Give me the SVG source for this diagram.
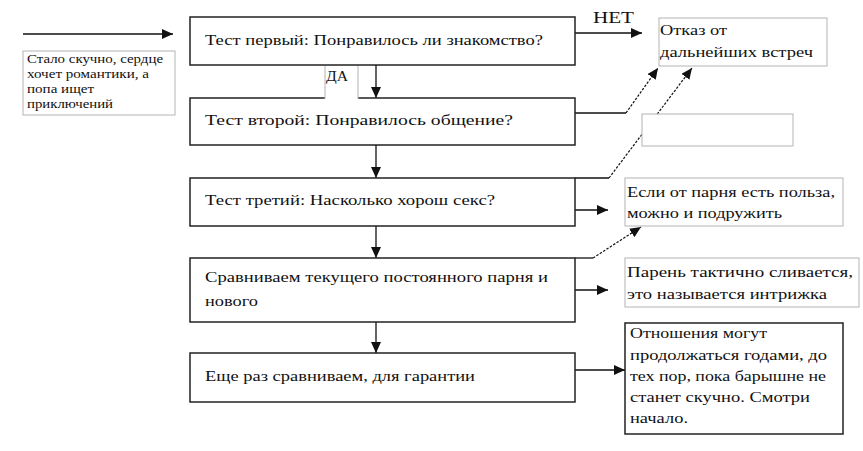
<svg xmlns="http://www.w3.org/2000/svg" width="863" height="451" viewBox="0 0 863 451">
<style>
.bx{fill:#fff;stroke:#222;stroke-width:1.5}
.gb{fill:#fff;stroke:#b4b4b4;stroke-width:1}
.t{font-size:15px;fill:#111}
.ts{font-size:12px;fill:#111}
.ln{fill:none;stroke:#111;stroke-width:1.3}
.ds{fill:none;stroke:#111;stroke-width:1.2;stroke-dasharray:2.5,1.5}
</style>
<defs>
<marker id="ah" markerUnits="userSpaceOnUse" markerWidth="12" markerHeight="10" refX="11" refY="5" orient="auto">
<path d="M0,0 L11,5 L0,10 Z" fill="#111"/>
</marker>
</defs>
<rect width="863" height="451" fill="#fff"/>
<g id="connectors">
<line class="ln" x1="23" y1="34" x2="173" y2="34" marker-end="url(#ah)"/>
<line class="ln" x1="575" y1="33" x2="642" y2="33" marker-end="url(#ah)"/>
<line class="ln" x1="376" y1="65" x2="376" y2="98" marker-end="url(#ah)"/>
<line class="ln" x1="376" y1="145" x2="376" y2="178" marker-end="url(#ah)"/>
<line class="ln" x1="376" y1="226" x2="376" y2="258" marker-end="url(#ah)"/>
<line class="ln" x1="376" y1="322" x2="376" y2="353" marker-end="url(#ah)"/>
<polyline class="ln" points="575,113 626,113"/>
<line class="ds" x1="626" y1="113" x2="658" y2="68" marker-end="url(#ah)"/>
<polyline class="ln" points="575,178 609,178"/>
<line class="ds" x1="609" y1="178" x2="692" y2="68" marker-end="url(#ah)"/>
<line class="ln" x1="575" y1="210" x2="608" y2="210" marker-end="url(#ah)"/>
<polyline class="ln" points="575,258 593,258"/>
<line class="ds" x1="593" y1="258" x2="641" y2="227" marker-end="url(#ah)"/>
<line class="ln" x1="575" y1="290" x2="608" y2="290" marker-end="url(#ah)"/>
<line class="ln" x1="575" y1="370" x2="625" y2="370" marker-end="url(#ah)"/>
</g>
<g font-family="Liberation Serif, Times New Roman, serif">
<g id="start">
<rect class="gb" x="23" y="51" width="152" height="64"/>
<text class="ts" x="27" y="63" textLength="136" lengthAdjust="spacingAndGlyphs">Стало скучно, сердце</text>
<text class="ts" x="27" y="78" textLength="122" lengthAdjust="spacingAndGlyphs">хочет романтики, а</text>
<text class="ts" x="27" y="93" textLength="67" lengthAdjust="spacingAndGlyphs">попа ищет</text>
<text class="ts" x="27" y="108" textLength="86" lengthAdjust="spacingAndGlyphs">приключений</text>
</g>
<g id="test1">
<rect class="bx" x="190" y="17" width="385" height="48"/>
<text class="t" x="205" y="45" textLength="338" lengthAdjust="spacingAndGlyphs">Тест первый: Понравилось ли знакомство?</text>
</g>
<g id="test2">
<rect class="bx" x="190" y="98" width="385" height="47"/>
<text class="t" x="205" y="125" textLength="308" lengthAdjust="spacingAndGlyphs">Тест второй: Понравилось общение?</text>
</g>
<g id="label-da">
<rect x="325" y="66" width="33" height="33" fill="#fff" stroke="none"/>
<line x1="325" y1="66" x2="325" y2="99" stroke="#b4b4b4" stroke-width="1"/>
<line x1="358" y1="66" x2="358" y2="99" stroke="#b4b4b4" stroke-width="1"/>
<text class="t" x="326" y="81" textLength="22" lengthAdjust="spacingAndGlyphs">ДА</text>
</g>
<g id="label-net">
<text class="t" x="593" y="23" style="font-size:17px" textLength="41" lengthAdjust="spacingAndGlyphs">НЕТ</text>
</g>
<g id="test3">
<rect class="bx" x="190" y="178" width="385" height="48"/>
<text class="t" x="205" y="205" textLength="290" lengthAdjust="spacingAndGlyphs">Тест третий: Насколько хорош секс?</text>
</g>
<g id="compare">
<rect class="bx" x="190" y="258" width="385" height="64"/>
<text class="t" x="205" y="282" textLength="343" lengthAdjust="spacingAndGlyphs">Сравниваем текущего постоянного парня и</text>
<text class="t" x="205" y="306" textLength="53" lengthAdjust="spacingAndGlyphs">нового</text>
</g>
<g id="compare2">
<rect class="bx" x="190" y="353" width="385" height="49"/>
<text class="t" x="205" y="381" textLength="270" lengthAdjust="spacingAndGlyphs">Еще раз сравниваем, для гарантии</text>
</g>
<g id="refuse">
<rect class="gb" x="659" y="18" width="168" height="48"/>
<text class="t" x="660" y="35" textLength="67" lengthAdjust="spacingAndGlyphs">Отказ от</text>
<text class="t" x="660" y="57" textLength="153" lengthAdjust="spacingAndGlyphs">дальнейших встреч</text>
</g>
<g id="empty">
<rect class="gb" x="642" y="114" width="151" height="32"/>
</g>
<g id="friend">
<rect class="gb" x="625" y="178" width="218" height="48"/>
<text class="t" x="627" y="197" textLength="208" lengthAdjust="spacingAndGlyphs">Если от парня есть польза,</text>
<text class="t" x="627" y="218" textLength="155" lengthAdjust="spacingAndGlyphs">можно и подружить</text>
</g>
<g id="intrigue">
<rect class="gb" x="625" y="258" width="234" height="49"/>
<text class="t" x="627" y="277" textLength="226" lengthAdjust="spacingAndGlyphs">Парень тактично сливается,</text>
<text class="t" x="627" y="299" textLength="200" lengthAdjust="spacingAndGlyphs">это называется интрижка</text>
</g>
<g id="relations">
<rect class="bx" x="625" y="323" width="218" height="111" stroke-width="1.3"/>
<text class="t" x="630" y="338" textLength="137" lengthAdjust="spacingAndGlyphs">Отношения могут</text>
<text class="t" x="630" y="360" textLength="197" lengthAdjust="spacingAndGlyphs">продолжаться годами, до</text>
<text class="t" x="630" y="381" textLength="196" lengthAdjust="spacingAndGlyphs">тех пор, пока барышне не</text>
<text class="t" x="630" y="402" textLength="180" lengthAdjust="spacingAndGlyphs">станет скучно. Смотри</text>
<text class="t" x="630" y="423" textLength="58" lengthAdjust="spacingAndGlyphs">начало.</text>
</g>
</g>
</svg>
